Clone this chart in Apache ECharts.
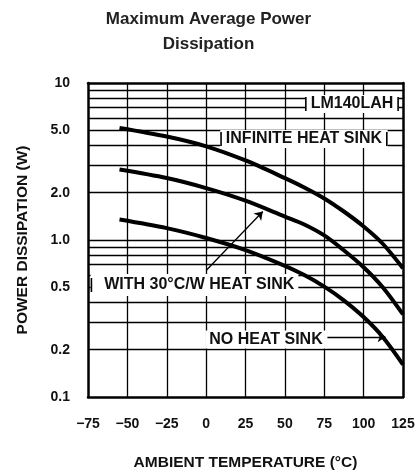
<!DOCTYPE html>
<html><head><meta charset="utf-8">
<script src="https://cdn.jsdelivr.net/npm/echarts@6/dist/echarts.min.js"></script>
<style>html,body{margin:0;padding:0;background:#fff}#c{width:417px;height:472px}</style>
</head><body><div id="c"></div>
<script>
// ---- data ----
const temperatures = [-55, -25, 0, 25, 50, 62, 75, 87, 100, 112, 125];
const infiniteSink = [5.17, 4.56, 3.95, 3.21, 2.48, 2.17, 1.84, 1.53, 1.22, 0.95, 0.66];
const heatSink30   = [2.81, 2.48, 2.14, 1.78, 1.41, 1.26, 1.07, 0.867, 0.671, 0.502, 0.336];
const noHeatSink   = [1.35, 1.19, 1.03, 0.863, 0.685, 0.60, 0.505, 0.416, 0.323, 0.242, 0.161];
const xTickValues  = [-75, -50, -25, 0, 25, 50, 75, 100, 125];
const xGridValues  = [-50, -25, 0, 25, 50, 75, 100];
const yLabelValues = [0.1, 0.2, 0.5, 1, 2, 5, 10];
const yGridValues  = [0.2, 0.3, 0.4, 0.5, 0.6, 0.7, 0.8, 0.9, 1, 2, 3, 4, 5, 6, 7, 8, 9];
const annotationTexts = ['LM140LAH', 'INFINITE HEAT SINK', 'WITH 30°C/W HEAT SINK', 'NO HEAT SINK'];
const annotationCoords = [[92.6, 7.35], [62.1, 4.40], [-7.4, 0.517], [38, 0.232]];
const arrowLines = [[[0, 0.64], [36, 1.52]], [[77, 0.241], [114, 0.241]]];

const FONT = "'Liberation Sans', Arial, sans-serif";
const chart = echarts.init(document.getElementById('c'), null, {renderer: 'canvas'});
const pair = arr => temperatures.map((t, i) => [t, arr[i]]);
const curve = (name, arr) => ({
  type: 'line', name, data: pair(arr), smooth: 0.3, symbol: 'none', silent: true, z: 3,
  lineStyle: {color: '#000', width: 4}
});
const axisText = {fontFamily: FONT, fontSize: 14, fontWeight: 'bold', color: '#111'};
const nameText = {fontFamily: FONT, fontSize: 15.5, fontWeight: 'bold', color: '#111'};
const border = {show: true, onZero: false, lineStyle: {color: '#000', width: 2.5}};
const xRange = {type: 'value', min: xTickValues[0], max: xTickValues[xTickValues.length - 1], interval: 25};
const yRange = {type: 'log', logBase: 10, min: yLabelValues[0], max: yLabelValues[yLabelValues.length - 1]};
const gridLine = {color: '#000', width: 1.3, type: 'solid'};

// bracket style of each annotation box: both ends, left only, none
const bracketModes = ['both', 'both', 'left', 'none'];
const bracketed = (t, mode) =>
  (mode === 'both' ? '{bar|}{gap|}' : mode === 'left' ? '{bar|}{gapL|}' : '') + t +
  (mode === 'both' ? '{gap|}{bar|}' : '');
const labelPadding = mode => mode === 'both' ? [1, 0] : mode === 'left' ? [3, 4, 3, 0] : [1, 4];

const option = {
  animation: false,
  title: {
    text: 'Maximum Average Power\nDissipation', left: 'center', top: 2,
    textStyle: {fontFamily: FONT, fontSize: 17, fontWeight: 'bold', color: '#222', lineHeight: 25}
  },
  grid: {left: 88, top: 83, width: 315, height: 314, show: false, containLabel: false, outerBoundsMode: 'none'},
  xAxis: [
    Object.assign({
      position: 'bottom', axisLine: border, axisTick: {show: false},
      splitLine: {show: false},
      axisLabel: Object.assign({margin: 20,
        formatter: v => v < 0 ? '\u2212' + (-v) : String(v)}, axisText),
      name: 'AMBIENT TEMPERATURE (°C)', nameLocation: 'middle', nameGap: 58, nameTextStyle: nameText
    }, xRange),
    Object.assign({position: 'top', axisLine: border, axisTick: {show: false},
      axisLabel: {show: false}, splitLine: {show: false}}, xRange)
  ],
  yAxis: [
    Object.assign({
      position: 'left', axisLine: border, axisTick: {show: false}, splitLine: {show: false},
      axisLabel: Object.assign({margin: 18, customValues: yLabelValues,
        formatter: v => v >= 9.99 ? '10' : Number(v).toFixed(1)}, axisText),
      name: 'POWER DISSIPATION (W)', nameLocation: 'middle', nameGap: 57, nameTextStyle: nameText
    }, yRange),
    Object.assign({position: 'right', axisLine: border, axisTick: {show: false},
      axisLabel: {show: false}, splitLine: {show: false}}, yRange)
  ],
  series: [
    {
      type: 'line', data: [], silent: true, z: 1,
      markLine: {
        silent: true, symbol: 'none', z: 1, animation: false,
        label: {show: false}, emphasis: {disabled: true},
        lineStyle: gridLine,
        data: yGridValues.map(v => ({yAxis: v})).concat(xGridValues.map(v => ({xAxis: v})))
      }
    },
    curve('Infinite heat sink', infiniteSink),
    curve('With 30°C/W heat sink', heatSink30),
    curve('No heat sink', noHeatSink),
    {
      type: 'line', data: [], silent: true, z: 6,
      markLine: {
        silent: true, z: 6, animation: false, symbol: ['none', 'arrow'], symbolSize: 8,
        label: {show: false}, emphasis: {disabled: true},
        lineStyle: {color: '#000', width: 1.3, type: 'solid'},
        data: arrowLines.map(l => [{coord: l[0]}, {coord: l[1]}])
      },
      markPoint: {
        silent: true, z: 8, animation: false, symbol: 'circle', symbolSize: 1,
        itemStyle: {color: 'rgba(0,0,0,0)'},
        label: {
          show: true, position: 'inside', fontFamily: FONT, fontSize: 16, fontWeight: 'bold',
          color: '#111', backgroundColor: '#fff',
          rich: {
            bar: {width: 1.6, height: 14, backgroundColor: '#000'},
            gap: {width: 4},
            gapL: {width: 12}
          }
        },
        data: annotationTexts.map((t, i) => ({
          name: t, coord: annotationCoords[i],
          label: {formatter: bracketed(t, bracketModes[i]), padding: labelPadding(bracketModes[i])}
        }))
      }
    }
  ]
};
chart.setOption(option);
</script></body></html>
